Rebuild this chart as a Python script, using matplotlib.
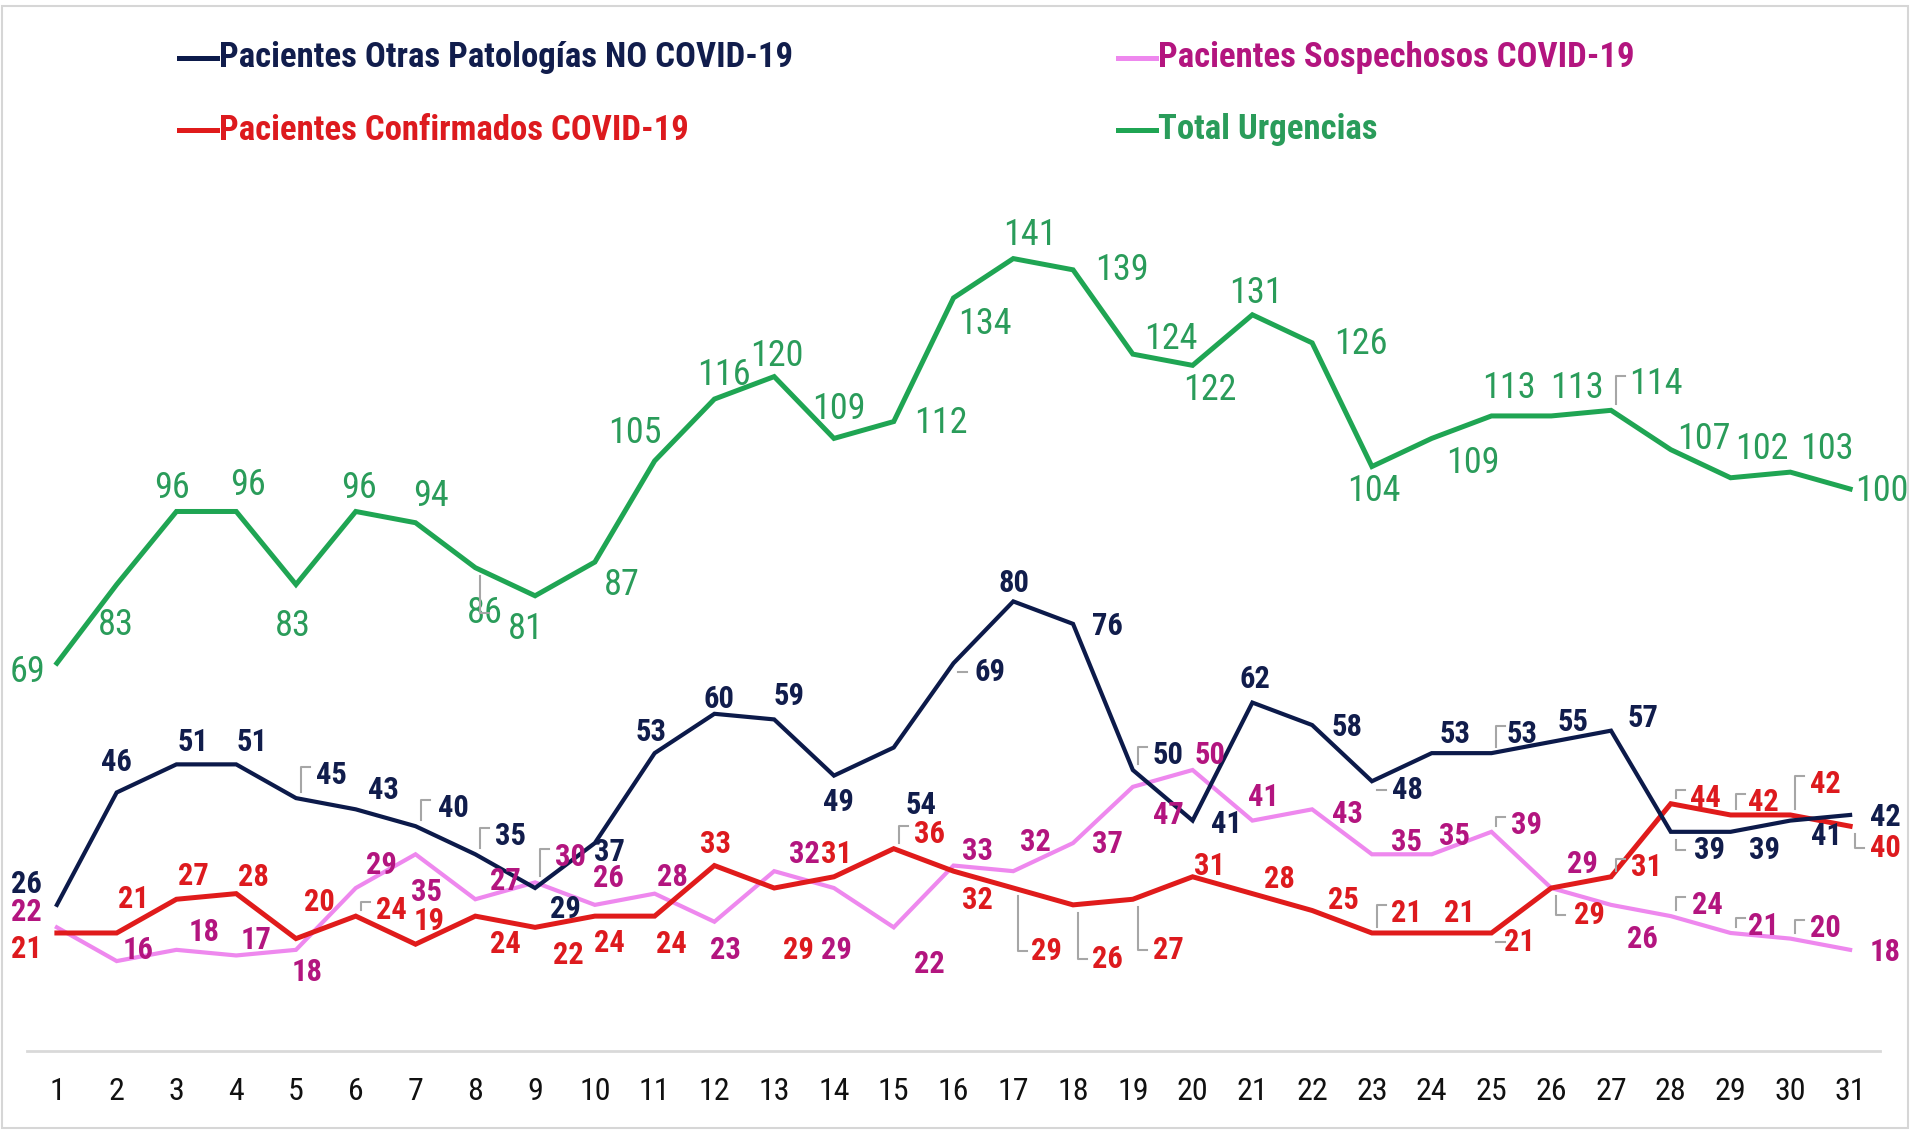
import matplotlib
matplotlib.use("Agg")
import matplotlib.pyplot as plt
from matplotlib.lines import Line2D
from matplotlib.patches import Rectangle
from matplotlib.transforms import IdentityTransform
from matplotlib import font_manager as fm

# ---------------- data ----------------
days = list(range(1, 32))
day_labels = [str(d) for d in days]
no_covid = [26, 46, 51, 51, 45, 43, 40, 35, 29, 37, 53, 60, 59, 49, 54, 69, 80, 76, 50, 41,
            62, 58, 48, 53, 53, 55, 57, 39, 39, 41, 42]
confirmados = [21, 21, 27, 28, 20, 24, 19, 24, 22, 24, 24, 33, 29, 31, 36, 32, 29, 26, 27, 31,
               28, 25, 21, 21, 21, 29, 31, 44, 42, 42, 40]
sospechosos = [22, 16, 18, 17, 18, 29, 35, 27, 30, 26, 28, 23, 32, 29, 22, 33, 32, 37, 47, 50,
               41, 43, 35, 35, 39, 29, 26, 24, 21, 20, 18]
total = [69, 83, 96, 96, 83, 96, 94, 86, 81, 87, 105, 116, 120, 109, 112, 134, 141, 139, 124, 122,
         131, 126, 104, 109, 113, 113, 114, 107, 102, 103, 100]

names = ["Pacientes Otras Patologías NO COVID-19", "Pacientes Confirmados COVID-19",
         "Pacientes Sospechosos COVID-19", "Total Urgencias"]

# ---------------- layout of data labels (offsets in reference px; +dy = down) ----------------
off_total = [(-24, 7), (-1, 33), (-4, -19), (10, -22), (-3, 34), (3, -19), (13, -22), (8, 37), (-8, 27),
             (22, 19), (-16, -23), (8, -20), (2, -17), (4, -24), (39, 1), (26, 21), (14, -19), (40, 0),
             (31, -12), (14, 20), (3, -18), (40, 1), (2, 20), (34, 20), (14, -23), (21, -23), (37, -22),
             (27, -9), (26, -24), (30, -19), (26, 2)]
off_nc = [(-25, -17), (0, -25), (14, -18), (13, -18), (29, -19), (23, -16), (31, -15), (29, -15), (25, 17),
          (12, 7), (-3, -17), (4, -12), (12, -19), (4, 22), (22, 47), (30, 7), (1, -15), (28, 2), (29, -12),
          (28, 3), (2, -19), (29, 2), (29, 7), (19, -16), (25, -16), (18, -16), (26, -10), (32, 15), (28, 15),
          (30, 13), (29, 2)]
off_cf = [(-25, 13), (14, -28), (14, -19), (14, -14), (19, -30), (29, -5), (11, -19), (25, 23), (27, 23),
          (12, 22), (14, 23), (1, -18), (20, 51), (2, -19), (29, -12), (20, 24), (27, 52), (28, 44), (29, 42),
          (14, -9), (22, -12), (26, -9), (28, -16), (23, -16), (23, 7), (31, 22), (29, -8), (28, -5), (27, -11),
          (29, -25), (29, 18)]
off_sp = [(-25, -13), (18, -9), (23, -15), (16, -13), (9, 18), (21, -19), (9, 31), (25, -15), (29, -21),
          (11, -22), (15, -14), (9, 23), (25, -14), (2, 51), (29, 30), (20, -12), (18, -24), (28, 1), (29, 23),
          (14, -12), (9, -19), (29, 4), (28, -10), (19, -15), (29, -6), (26, -20), (26, 28), (30, -9), (27, -6),
          (29, -9), (29, 2)]
lead_total = [8, 27]
lead_nc = [5, 7, 8, 16, 19, 23, 25, 28]
lead_cf = [6, 15, 17, 18, 19, 23, 25, 26, 27, 28, 29, 30, 31]
lead_sp = [9, 25, 28, 29, 30]

# ---------------- fonts ----------------
avail = {f.name for f in fm.fontManager.ttflist}
NARROW = None
for cand in ["Liberation Sans Narrow", "Roboto Condensed", "Open Sans Condensed"]:
    if cand in avail:
        NARROW = cand
        break
FONT = NARROW or "Liberation Sans"
plt.rcParams["font.family"] = [FONT, "DejaVu Sans"]
if NARROW:
    FS_REG, FS_BOLD, FS_LEG, FS_TICK = 26, 22, 25, 23
else:
    FS_REG, FS_BOLD, FS_LEG, FS_TICK = 22, 19.5, 21, 18

# ---------------- colours ----------------
c_nc_line, c_nc_txt = "#0C1A4A", "#111D4C"
c_cf_line, c_cf_txt = "#E01B1B", "#DD1A1E"
c_sp_line, c_sp_txt = "#EE88EE", "#B3157F"
c_tot_line, c_tot_txt = "#1FA553", "#2A9C5A"

W, H = 1911, 1132
fig = plt.figure(figsize=(W / 100, H / 100), dpi=100)
fig.patch.set_facecolor("white")

YMAX = 180
ax = fig.add_axes([27 / W, 1 - 1051 / H, (1880 - 27) / W, YMAX * 5.62 / H])
ax.set_xlim(0.5, 31.5)
ax.set_ylim(0, YMAX)
ax.patch.set_alpha(0)
for s in ["top", "right", "left"]:
    ax.spines[s].set_visible(False)
ax.spines["bottom"].set_color("#D9D9D9")
ax.spines["bottom"].set_linewidth(2)
ax.set_yticks([])
ax.set_xticks(days)
ax.set_xticklabels(day_labels, fontsize=FS_TICK, color="#111111")
ax.tick_params(axis="x", length=0, pad=19)

series = [
    (sospechosos, c_sp_line, c_sp_txt, 3.0, off_sp, lead_sp, "bold", 2),
    (confirmados, c_cf_line, c_cf_txt, 3.6, off_cf, lead_cf, "bold", 3),
    (no_covid, c_nc_line, c_nc_txt, 3.0, off_nc, lead_nc, "bold", 4),
    (total, c_tot_line, c_tot_txt, 3.6, off_total, lead_total, "normal", 5),
]

K = 1911 / 1568  # reference px -> output px
PT = 72 / 100    # output px -> points

for vals, lc, tc, lw, offs, leads, wt, z in series:
    ax.plot(days, vals, color=lc, lw=lw, solid_joinstyle="miter", zorder=z)
    fs = FS_BOLD if wt == "bold" else FS_REG
    for d, v, (dx, dy) in zip(days, vals, offs):
        ax.annotate(str(v), (d, v), xytext=(dx * K * PT, -dy * K * PT), textcoords="offset points",
                    ha="center", va="center", fontsize=fs, fontweight=wt, color=tc, zorder=6)
    # small grey leader lines: from the point towards the label, with a short hook
    for d in leads:
        v = vals[d - 1]
        dx, dy = offs[d - 1]
        px, py = ax.transData.transform((d, v))
        cy = py - dy * K
        x0 = px + 5
        if cy > py:   # label above the point
            y_end = cy + 8
            y_start = py + 6
        else:         # label below the point
            y_end = cy
            y_start = py - 8
        if abs(y_end - y_start) < 4:
            y_start = y_end
        xs, ys = [x0, x0, x0 + 9], [y_start, y_end, y_end]
        fig.add_artist(Line2D(xs, ys, transform=IdentityTransform(), color="#A6A6A6", lw=1.5))

# ---------------- legend (manual) ----------------
leg = [
    (names[0], c_nc_line, c_nc_txt, 179, 58),
    (names[1], c_cf_line, c_cf_txt, 179, 130),
    (names[2], c_sp_line, c_sp_txt, 1118, 58),
    (names[3], c_tot_line, c_tot_txt, 1118, 130),
]
for txt, lc, tc, x0, y0 in leg:
    fig.add_artist(Line2D([x0 / W, (x0 + 38) / W], [1 - y0 / H, 1 - y0 / H],
                          transform=fig.transFigure, color=lc, lw=3.6))
    fig.text((x0 + 40) / W, 1 - y0 / H, txt, ha="left", va="center", fontsize=FS_LEG,
             fontweight="bold", color=tc)

# figure frame
fig.add_artist(Rectangle((2 / W, 4 / H), (W - 5) / W, (H - 10) / H, transform=fig.transFigure,
                         fill=False, edgecolor="#D6D6D6", lw=1.5))

fig.savefig("out.png", dpi=100, facecolor="white")
